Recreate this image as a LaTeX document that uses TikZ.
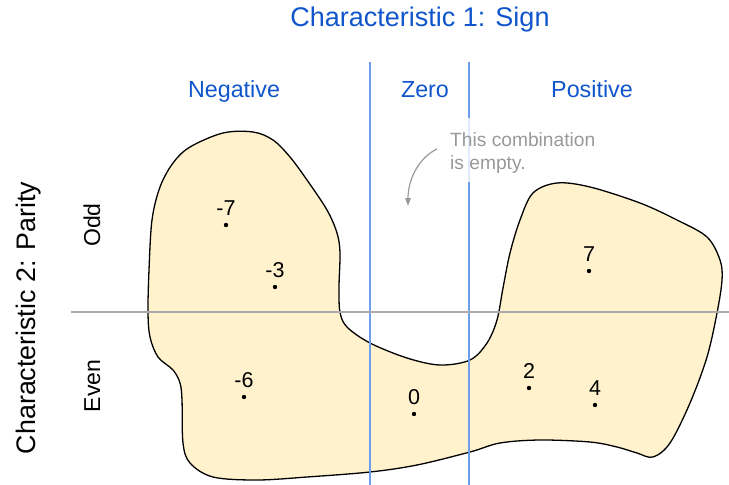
\documentclass[tikz,border=0pt]{standalone}
\usepackage{fontspec}
\setmainfont{Liberation Sans}
\usetikzlibrary{arrows.meta}
\definecolor{hdblue}{HTML}{1155CC}
\definecolor{lineblue}{HTML}{6D9EEB}
\definecolor{linegray}{HTML}{AAAAAA}
\definecolor{notegray}{HTML}{999999}
\definecolor{blobfill}{HTML}{FFF2CC}
\tikzset{
  titletext/.style={text=hdblue, font=\fontsize{27}{32}\selectfont, inner sep=0pt},
  coltext/.style={text=hdblue, font=\fontsize{23.3}{28}\selectfont, inner sep=0pt, anchor=base},
  rowtext/.style={text=black, font=\fontsize{23}{28}\selectfont, inner sep=0pt, rotate=90, anchor=base},
  axistext/.style={text=black, font=\fontsize{26.8}{32}\selectfont, inner sep=0pt, rotate=90, anchor=base},
  notetext/.style={text=notegray, font=\fontsize{19.2}{23}\selectfont, inner sep=0pt, anchor=base west},
  divline/.style={lineblue, line width=1.3pt},
  midline/.style={linegray, line width=1.5pt},
  blob/.style={fill=blobfill, draw=black, line width=1.3pt},
  pt/.style={circle, fill=black, inner sep=0pt, minimum size=4.4pt},
  numlabel/.style={text=black, font=\fontsize{21.5}{26}\selectfont, inner sep=0pt, label distance=7pt},
  notearrow/.style={notegray, line width=1.2pt, -{Triangle[length=8pt,width=5.5pt]}}
}
\begin{document}
\begin{tikzpicture}[x=1pt,y=-1pt]
\useasboundingbox (0,0) rectangle (729,485);
% blob
\draw[blob] plot[smooth cycle, tension=0.55] coordinates {
 (190,463) (183,443) (182,400) (180,383) (173,370) (158,357) (150,337) (148,312)
 (149,270) (152,220) (160,187) (173,163) (190,147) (223,133) (253,132) (273,140)
 (290,157) (307,180) (327,210) (337,233) (340,253) (339,287) (340,312) (347,327)
 (370,343) (407,358) (440,365) (470,360) (487,343) (497,320) (503,288) (510,253)
 (520,220) (533,193) (557,183) (590,187) (640,203) (677,220) (707,237) (720,260)
 (722,280) (717,313) (707,357) (690,403) (670,443) (653,457) (637,453) (617,447)
 (590,442) (540,440) (500,443) (470,452) (417,465) (370,472) (307,477) (257,480)
 (213,477)};
% divider lines
\coordinate (v1t) at (370,62); \coordinate (v1b) at (370,485);
\coordinate (v2t) at (469,62); \coordinate (v2b) at (469,485);
\coordinate (hl) at (71,312); \coordinate (hr) at (729,312);
\draw[divline] (v1t) -- (v1b);
\draw[divline] (v2t) -- (v2b);
\draw[midline] (hl) -- (hr);
% translucent note box
\fill[white, opacity=0.8] (446,118) rectangle (600,182);
% headings
\node[titletext] (title) at (420,20) {Characteristic 1: Sign};
\node[coltext] (neg) at (234,97) {Negative};
\node[coltext] (zero) at (425,97) {Zero};
\node[coltext] (pos) at (592,97) {Positive};
\node[axistext] (parity) at (35,318) {Characteristic 2: Parity};
\node[rowtext] (odd) at (100,225) {Odd};
\node[rowtext] (even) at (100,386) {Even};
% note
\node[notetext] (note1) at (450,146) {This combination};
\node[notetext] (note2) at (450,169) {is empty.};
\coordinate (arrS) at (437,149);
\coordinate (arrE) at (408,206);
\draw[notearrow] (arrS) .. controls (420,157) and (408,178) .. (arrE);
% points
\node[pt, label={[numlabel]above:-7}] (pm7) at (226,225) {};
\node[pt, label={[numlabel]above:-3}] (pm3) at (275,287) {};
\node[pt, label={[numlabel]above:7}] (p7) at (589,271) {};
\node[pt, label={[numlabel]above:-6}] (pm6) at (244,397) {};
\node[pt, label={[numlabel]above:0}] (p0) at (414,414) {};
\node[pt, label={[numlabel]above:2}] (p2) at (529,388) {};
\node[pt, label={[numlabel]above:4}] (p4) at (595,405) {};
\end{tikzpicture}
\end{document}
